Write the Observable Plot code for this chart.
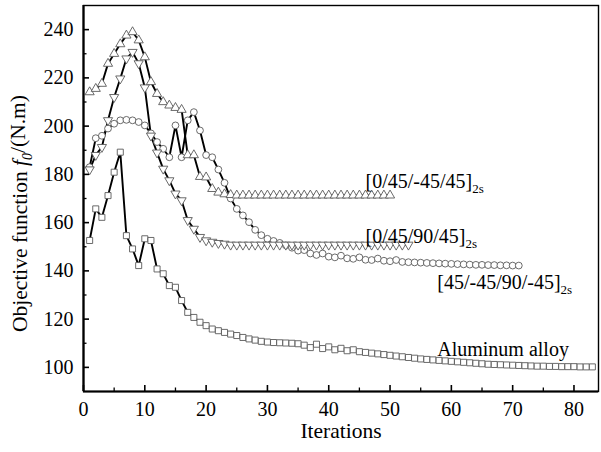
<!DOCTYPE html>
<html><head><meta charset="utf-8">
<script src="https://cdn.jsdelivr.net/npm/d3@7"></script>
<script src="https://cdn.jsdelivr.net/npm/@observablehq/plot@0.6"></script>
<style>
html,body{margin:0;padding:0;background:#fff}
svg{display:block}
#chart svg, #chart svg text, #chart svg tspan{font-family:"Liberation Serif","Times New Roman",serif !important;}
</style>
</head><body><div id="chart"></div>
<script>
// ---- data ----
const seriesNames = ["[0/45/-45/45]", "[0/45/90/45]", "[45/-45/90/-45]", "Aluminum alloy"];
const seriesSubs = ["2s", "2s", "2s", ""];

// [0/45/-45/45]2s  (open up-triangles), iterations 1..50
const layupA = [214.1, 215.5, 217.6, 225.9, 230.0, 234.0, 237.6, 239.0, 235.6, 228.6,
  218.3, 213.4, 210.0, 208.6, 207.6, 206.8, 188.0, 188.0, 179.0, 178.8,
  174.0, 172.5, 171.8, 171.5, 171.3, 171.3, 171.3, 171.3, 171.3, 171.3,
  171.3, 171.3, 171.3, 171.3, 171.3, 171.3, 171.3, 171.3, 171.3, 171.3,
  171.3, 171.3, 171.3, 171.3, 171.3, 171.3, 171.3, 171.3, 171.3, 171.3];

// [0/45/90/45]2s  (open down-triangles), iterations 1..53
const layupB = [182.0, 188.0, 191.3, 202.4, 212.0, 219.7, 228.0, 230.7, 226.0, 216.0,
  196.0, 189.0, 182.3, 177.5, 172.0, 169.2, 161.0, 157.4, 154.0, 152.6,
  152.0, 151.5, 151.2, 150.8, 150.8, 150.8, 150.8, 150.8, 150.8, 150.8,
  150.8, 150.8, 150.8, 150.8, 150.8, 150.8, 150.8, 150.8, 150.8, 150.8,
  150.8, 150.8, 150.8, 150.8, 150.8, 150.8, 150.8, 150.8, 150.8, 150.8,
  150.8, 150.8, 150.8];

// [45/-45/90/-45]2s  (open circles), iterations 1..71
const layupC = [183.0, 195.0, 196.0, 199.0, 201.0, 202.4, 202.6, 202.4, 201.7, 200.3,
  197.0, 193.4, 190.6, 187.1, 200.3, 187.1, 202.4, 205.8, 198.2, 188.0,
  187.1, 182.0, 176.5, 170.0, 165.7, 163.0, 160.2, 157.0, 154.8, 153.3,
  152.4, 151.6, 150.6, 149.6, 148.4, 148.6, 147.2, 146.6, 147.2, 145.9,
  145.6, 146.3, 145.2, 145.0, 145.6, 144.6, 144.5, 145.1, 144.2, 144.0,
  144.5, 143.7, 143.6, 143.5, 143.4, 143.3, 143.2, 143.1, 143.0, 142.9,
  142.8, 142.7, 142.6, 142.5, 142.5, 142.4, 142.4, 142.3, 142.3, 142.2,
  142.2];

// Aluminum alloy  (open squares), iterations 1..83
const aluminum = [152.6, 165.7, 162.2, 171.2, 180.9, 189.2, 154.6, 149.1, 142.2, 153.3,
  152.6, 140.8, 138.8, 133.9, 133.2, 127.7, 122.8, 120.7, 118.7, 117.3,
  115.9, 115.2, 114.5, 113.8, 113.2, 112.4, 111.8, 111.3, 110.8, 110.5,
  110.3, 110.2, 110.1, 110.0, 109.8, 109.2, 108.2, 109.6, 107.8, 108.5,
  107.3, 107.9, 106.9, 107.3, 106.5, 106.2, 105.9, 105.6, 105.3, 105.0,
  104.7, 104.4, 104.1, 103.8, 103.5, 103.3, 103.1, 102.9, 102.7, 102.5,
  102.3, 102.1, 101.9, 101.7, 101.5, 101.3, 101.2, 101.1, 101.0, 100.9,
  100.8, 100.7, 100.6, 100.5, 100.5, 100.4, 100.4, 100.3, 100.3, 100.3,
  100.2, 100.2, 100.2];

// label anchor positions (data units) for the in-plot series labels
const labelX = [46, 46, 57.7, 57.7];
const labelY = [177, 154.2, 135.1, 107.3];

const xMajor = [0, 10, 20, 30, 40, 50, 60, 70, 80];
const xMinor = [5, 15, 25, 35, 45, 55, 65, 75];
const yMajor = [100, 120, 140, 160, 180, 200, 220, 240];
const yMinor = [110, 130, 150, 170, 190, 210, 230];
const xTitle = "Iterations";
const yTitleParts = ["Objective function ", "f", "0", "/(N.m)"];

// ---- build ----
const W = 601, H = 452;
const mL = 83, mR = 3, mT = 5, mB = 61;
const frameW = W - mL - mR, frameH = H - mT - mB;
const SERIF = "Liberation Serif";

const rows = (vals) => vals.map((v, i) => ({it: i + 1, f: v}));
const sq3 = Math.sqrt(3);
const triangleDown = {
  draw(ctx, size) {
    const y = -Math.sqrt(size / (sq3 * 3));
    ctx.moveTo(0, -y * 2);
    ctx.lineTo(-sq3 * y, y);
    ctx.lineTo(sq3 * y, y);
    ctx.closePath();
  }
};

const series = [
  {data: rows(aluminum), symbol: "square"},
  {data: rows(layupC), symbol: "circle"},
  {data: rows(layupB), symbol: triangleDown},
  {data: rows(layupA), symbol: "triangle"}
];

const labels = seriesNames.map((n, i) => ({name: n, sub: seriesSubs[i], x: labelX[i], y: labelY[i]}));

const marks = [];
for (const s of series) {
  marks.push(Plot.line(s.data, {x: "it", y: "f", stroke: "#000", strokeWidth: 1.9}));
}
for (const s of series) {
  marks.push(Plot.dot(s.data, {x: "it", y: "f", symbol: () => s.symbol, r: 3.4, fill: "#fff", stroke: "#5a5a5a", strokeWidth: 0.9}));
}

const chart = Plot.plot({
  width: W, height: H,
  marginLeft: mL, marginRight: mR, marginTop: mT, marginBottom: mB,
  style: {fontFamily: SERIF, fontSize: "20px", color: "#000", background: "#fff"},
  x: {domain: [0, 84], label: null},
  y: {domain: [90, 250], label: null},
  symbol: {type: "identity"},
  marks: [
    ...marks,
    Plot.frame({stroke: "#000", strokeWidth: 1.4}),
    Plot.ruleX([0], {stroke: "#000", strokeWidth: 2.2}),
    Plot.ruleY([90], {stroke: "#000", strokeWidth: 2.2}),
    Plot.tickX(xMajor, {x: d => d, stroke: "#000", strokeWidth: 1.6, insetTop: frameH - 6}),
    Plot.tickX(xMinor, {x: d => d, stroke: "#000", strokeWidth: 1.3, insetTop: frameH - 3.5}),
    Plot.tickY(yMajor, {y: d => d, stroke: "#000", strokeWidth: 1.6, insetRight: frameW - 6}),
    Plot.tickY(yMinor, {y: d => d, stroke: "#000", strokeWidth: 1.3, insetRight: frameW - 3.5}),
    Plot.axisX({ticks: xMajor, tickSize: 0, tickPadding: 10, tickFormat: d => String(d), label: null, fontSize: 20, fontFamily: SERIF}),
    Plot.axisY({ticks: yMajor, tickSize: 0, tickPadding: 10, tickFormat: d => String(d), label: null, fontSize: 20, fontFamily: SERIF}),
    Plot.text([xTitle], {text: d => d, frameAnchor: "bottom", dy: 46, fontSize: 21.5, fontFamily: SERIF, fill: "#000"}),
    Plot.text([yTitleParts.join("")], {text: d => d, frameAnchor: "left", textAnchor: "middle", rotate: -90, dx: -63, dy: 15, fontSize: 21.5, fontFamily: SERIF, fill: "#000"}),
    Plot.text(labels, {x: "x", y: "y", text: "name", textAnchor: "start", fontSize: 20, fontFamily: SERIF, fill: "#000"})
  ]
});

document.getElementById("chart").appendChild(chart);

// subscripts / italics as real text (tspans)
const svg = d3.select(chart);
const allText = svg.selectAll("text");
for (const lab of labels) {
  if (!lab.sub) continue;
  allText.filter(function() { return this.textContent === lab.name; })
    .append("tspan").attr("dy", "0.35em").attr("font-size", "13px").text(lab.sub);
}
allText.filter(function() { return this.textContent === yTitleParts.join(""); })
  .each(function() {
    const t = d3.select(this);
    t.text("");
    t.append("tspan").text(yTitleParts[0]);
    t.append("tspan").attr("font-style", "italic").text(yTitleParts[1]);
    t.append("tspan").attr("font-size", "14px").attr("dy", "0.3em").attr("font-style", "italic").text(yTitleParts[2]);
    t.append("tspan").attr("dy", "-0.3em").text(yTitleParts[3]);
  });
</script>
</body></html>
